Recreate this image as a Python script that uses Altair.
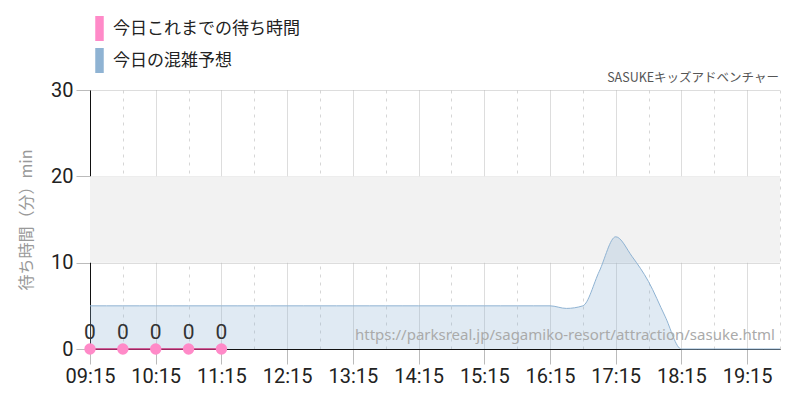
import altair as alt
import pandas as pd

# ---- data ----
forecast_times = [
    "09:15", "09:30", "09:45", "10:00", "10:15", "10:30", "10:45", "11:00",
    "11:15", "11:30", "11:45", "12:00", "12:15", "12:30", "12:45", "13:00",
    "13:15", "13:30", "13:45", "14:00", "14:15", "14:30", "14:45", "15:00",
    "15:15", "15:30", "15:45", "16:00", "16:15", "16:30", "16:45", "17:00",
    "17:15", "17:30", "17:45", "18:00", "18:15", "18:30", "18:45", "19:00",
    "19:15", "19:30", "19:45",
]
forecast_values = [
    5, 5, 5, 5, 5, 5, 5, 5,
    5, 5, 5, 5, 5, 5, 5, 5,
    5, 5, 5, 5, 5, 5, 5, 5,
    5, 5, 5, 5, 5, 4.7, 5.0, 9.0,
    13.0, 10.7, 7.8, 3.8, 0, 0, 0, 0,
    0, 0, 0,
]
actual_times = ["09:15", "09:45", "10:15", "10:45", "11:15"]
actual_values = [0, 0, 0, 0, 0]

band_low = [10]
band_high = [20]

y_ticks = [0, 10, 20, 30]
x_tick_times = [
    "09:15", "09:45", "10:15", "10:45", "11:15", "11:45", "12:15", "12:45",
    "13:15", "13:45", "14:15", "14:45", "15:15", "15:45", "16:15", "16:45",
    "17:15", "17:45", "18:15", "18:45", "19:15", "19:45",
]
x_domain = ["09:15", "19:45"]

legend_labels = ["今日これまでの待ち時間", "今日の混雑予想"]
legend_colors = ["#ff8ac8", "#8fb3d3"]
title_text = "SASUKEキッズアドベンチャー"
y_title = "待ち時間（分）min"
watermark = "https://parksreal.jp/sagamiko-resort/attraction/sasuke.html"


def to_min(s):
    h, m = s.split(":")
    return int(h) * 60 + int(m)


fc = pd.DataFrame({"m": [to_min(t) for t in forecast_times], "v": forecast_values,
                   "s": legend_labels[1]})
ac = pd.DataFrame({"m": [to_min(t) for t in actual_times], "v": actual_values,
                   "s": legend_labels[0]})
band = pd.DataFrame({"lo": band_low, "hi": band_high})
wm = pd.DataFrame({"t": [watermark]})
ttl = pd.DataFrame({"t": [title_text]})

NUM_FONT = "Roboto"
JP_FONT = "Noto Sans CJK JP"

hour_test = "datum.value % 60 == 15"
x_scale = alt.Scale(domain=[to_min(t) for t in x_domain], nice=False, zero=False)
y_scale = alt.Scale(domain=[0, 30], nice=False)

x_axis = alt.Axis(
    values=[to_min(t) for t in x_tick_times],
    labelExpr="(datum.value % 60 == 15) ? ((datum.value < 600 ? '0' : '') + floor(datum.value / 60) + ':15') : ''",
    title=None,
    grid=True,
    gridColor={"condition": {"test": hour_test, "value": "#bbbbbb"}, "value": "#d6d6d6"},
    gridDash={"condition": {"test": hour_test, "value": [1, 1]}, "value": [3, 5]},
    tickOpacity={"condition": {"test": hour_test, "value": 1}, "value": 0},
    tickColor="#bbbbbb",
    tickSize=15,
    labelPadding=2,
    labelFont=NUM_FONT,
    labelFontSize=20,
    labelColor="#222222",
    domainColor="#111111",
    labelOverlap=False,
    labelFlush=False,
)
y_axis = alt.Axis(
    values=y_ticks,
    title=y_title,
    titleFont=JP_FONT,
    titleFontSize=16,
    titleFontWeight="normal",
    titleColor="#999999",
    titlePadding=16,
    grid=True,
    gridColor="#bbbbbb",
    gridDash=[1, 1],
    tickColor="#bbbbbb",
    tickSize=14,
    labelPadding=3,
    labelFont=NUM_FONT,
    labelFontSize=20,
    labelColor="#222222",
    domainColor="#111111",
    labelFlush=False,
)

legend = alt.Legend(
    title=None,
    orient="none",
    legendX=-3,
    legendY=-74,
    direction="vertical",
    symbolType="M-0.34,-1H0.34V1H-0.34Z",
    symbolSize=625,
    symbolOpacity=1,
    symbolStrokeWidth=0,
    labelFont=JP_FONT,
    labelFontSize=17,
    labelColor="#222222",
    labelOffset=1,
    labelLimit=0,
    rowPadding=7,
)
color_scale = alt.Scale(domain=legend_labels, range=legend_colors)

X = alt.X("m:Q", scale=x_scale, axis=x_axis)
Y = alt.Y("v:Q", scale=y_scale, axis=y_axis)

band_layer = alt.Chart(band).mark_rect(color="#f2f2f2").encode(
    y=alt.Y("lo:Q", scale=y_scale, axis=y_axis),
    y2="hi:Q",
)

area_layer = alt.Chart(fc).mark_area(
    interpolate="monotone", fillOpacity=0.28,
    line={"color": "#8fb3d3", "strokeWidth": 1},
).encode(
    x=X, y=Y,
    color=alt.Color("s:N", scale=color_scale, legend=legend),
)

line_layer = alt.Chart(ac).mark_line(color="#c8307a", strokeWidth=1.5).encode(
    x=X, y=Y,
)

point_layer = alt.Chart(ac).mark_point(filled=True, size=130, opacity=1).encode(
    x=X, y=Y,
    color=alt.Color("s:N", scale=color_scale, legend=legend),
)

text_layer = alt.Chart(ac).mark_text(
    dy=-10, baseline="alphabetic", font=NUM_FONT, fontSize=21, color="#333333"
).encode(
    x=X, y=Y,
    text="v:Q",
)

wm_layer = alt.Chart(wm).mark_text(
    align="right", baseline="alphabetic", font="Noto Sans", fontSize=15, color="#aaaaaa"
).encode(
    x=alt.value(685),
    y=alt.value(250),
    text="t:N",
)

title_layer = alt.Chart(ttl).mark_text(
    align="right", baseline="alphabetic", font=JP_FONT, fontSize=12.5, color="#555555"
).encode(
    x=alt.value(689),
    y=alt.value(-8),
    text="t:N",
)

chart = alt.layer(
    band_layer, area_layer, line_layer, point_layer, text_layer, wm_layer, title_layer
).properties(
    width=690,
    height=259,
    padding={"left": 82, "top": 82, "right": 10, "bottom": 43},
    autosize=alt.AutoSizeParams(type="none"),
).configure_view(
    stroke=None
).configure_legend(
    labelFontSize=17, labelLimit=0
)

chart.save("out.html", embed_options={"renderer": "svg", "actions": False})
